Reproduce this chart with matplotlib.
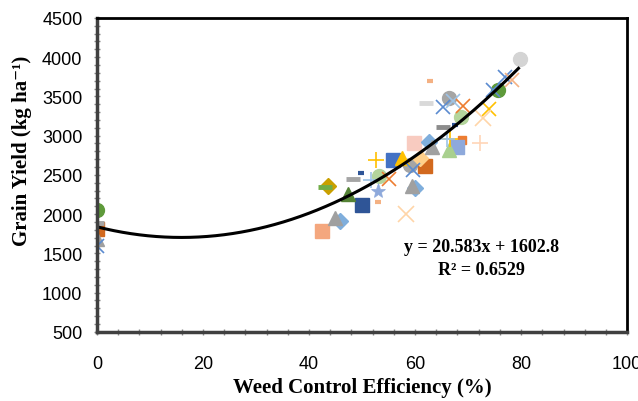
import numpy as np
import matplotlib
matplotlib.use("Agg")
import matplotlib.pyplot as plt
from matplotlib.ticker import MultipleLocator

# ── data (weed control efficiency %, grain yield kg/ha) ─────────
green_circle_x = [0, 75.7]
green_circle_y = [2050, 3580]
lgreen_circle_x = [53.2, 68.7]
lgreen_circle_y = [2480, 3240]
gray_circle_x = [66.4, 59.0]
gray_circle_y = [3480, 2630]
lgray_circle_x = [79.8]
lgray_circle_y = [3980]

dorange_sq_x = [0, 61.9]
dorange_sq_y = [1810, 2610]
orange_sq_x = [68.9]
orange_sq_y = [2950]
salmon_sq_x = [42.5]
salmon_sq_y = [1790]
pink_sq_x = [59.8]
pink_sq_y = [2900]
blue_sq_x = [55.8]
blue_sq_y = [2690]
dblue_sq_x = [50.0]
dblue_sq_y = [2120]
peri_sq_x = [67.9]
peri_sq_y = [2850]

gray_dash_x = [0, 48.3]
gray_dash_y = [1890, 2450]
lgray_dash_x = [62.0]
lgray_dash_y = [3410]
dgray_dash_x = [65.3]
dgray_dash_y = [3110]
green_dash_x = [43.0]
green_dash_y = [2350]
blue_dash_x = [49.8, 67.5]
blue_dash_y = [2520, 3130]
salmon_dash_x = [53.0, 62.8]
salmon_dash_y = [2160, 3690]

gold_dia_x = [43.6]
gold_dia_y = [2360]
lblue_dia_x = [45.8, 62.6, 60.0]
lblue_dia_y = [1910, 2920, 2330]
lorange_dia_x = [61.0]
lorange_dia_y = [2710]

gray_tri_x = [0, 44.9, 59.4, 63.2]
gray_tri_y = [1680, 1950, 2360, 2850]
green_tri_x = [47.4]
green_tri_y = [2260]
lgreen_tri_x = [66.4]
lgreen_tri_y = [2820]
gold_tri_x = [57.5]
gold_tri_y = [2710]

blue_x_x = [0, 65.3, 74.7, 77.0, 59.6]
blue_x_y = [1600, 3360, 3580, 3750, 2560]
lblue_x_x = [67.2]
lblue_x_y = [3440]
orange_x_x = [69.0, 55.1]
orange_x_y = [3380, 2450]
salmon_x_x = [78.3]
salmon_x_y = [3710]
gold_x_x = [74.0]
gold_x_y = [3340]
lorange_x_x = [72.8, 58.3]
lorange_x_y = [3230, 2000]

gold_plus_x = [52.6, 66.6]
gold_plus_y = [2690, 2960]
lblue_plus_x = [51.7, 66.0]
lblue_plus_y = [2430, 2960]
lorange_plus_x = [72.3]
lorange_plus_y = [2900]

star_x = [53.0]
star_y = [2300]

# polynomial trendline coefficients (as drawn)
trend_coef = [0.533, -16.97, 1838]
trend_range = [0, 79.5]

# ── styles ──────────────────────────────────────────────────────
series = [
    (lgray_circle_x, lgray_circle_y, 'o', '#D4D4D4', 10),
    (gray_circle_x, gray_circle_y, 'o', '#A5A5A5', 10),
    (green_circle_x, green_circle_y, 'o', '#5E9A3A', 10),
    (lgreen_circle_x, lgreen_circle_y, 'o', '#B4D59C', 10),
    (dorange_sq_x, dorange_sq_y, 's', '#D2691E', 10),
    (orange_sq_x, orange_sq_y, 's', '#ED7D31', 6),
    (salmon_sq_x, salmon_sq_y, 's', '#F4A77E', 10),
    (pink_sq_x, pink_sq_y, 's', '#F8CBC0', 10),
    (blue_sq_x, blue_sq_y, 's', '#4472C4', 10),
    (dblue_sq_x, dblue_sq_y, 's', '#2F5597', 10),
    (peri_sq_x, peri_sq_y, 's', '#8EA9DB', 10),
    (gold_dia_x, gold_dia_y, 'D', '#C9A000', 8),
    (lblue_dia_x, lblue_dia_y, 'D', '#7FAEDC', 8),
    (lorange_dia_x, lorange_dia_y, 'D', '#FFD08A', 8),
    (gray_tri_x, gray_tri_y, '^', '#A0A0A0', 10),
    (green_tri_x, green_tri_y, '^', '#548235', 10),
    (lgreen_tri_x, lgreen_tri_y, '^', '#A9D08E', 10),
    (gold_tri_x, gold_tri_y, '^', '#FFC000', 10),
]
line_series = [
    (gray_dash_x, gray_dash_y, '_', '#A5A5A5', 10, 3.5),
    (lgray_dash_x, lgray_dash_y, '_', '#D9D9D9', 10, 3.5),
    (dgray_dash_x, dgray_dash_y, '_', '#8C8C8C', 10, 3.5),
    (green_dash_x, green_dash_y, '_', '#70AD47', 10, 3.5),
    (blue_dash_x, blue_dash_y, '_', '#2F5597', 5, 3),
    (salmon_dash_x, salmon_dash_y, '_', '#F4B183', 5, 3),
    (blue_x_x, blue_x_y, 'x', '#5B8BD0', 10, 1.2),
    (lblue_x_x, lblue_x_y, 'x', '#9DC3E6', 10, 1.2),
    (orange_x_x, orange_x_y, 'x', '#ED7D31', 10, 1.2),
    (salmon_x_x, salmon_x_y, 'x', '#F4B183', 10, 1.2),
    (gold_x_x, gold_x_y, 'x', '#FFC000', 10, 1.2),
    (lorange_x_x, lorange_x_y, 'x', '#FFD5A8', 12, 1.2),
    (gold_plus_x, gold_plus_y, '+', '#FFC000', 11, 1.2),
    (lblue_plus_x, lblue_plus_y, '+', '#9DC3E6', 11, 1.2),
    (lorange_plus_x, lorange_plus_y, '+', '#FFD5B8', 11, 1.2),
    (star_x, star_y, '*', '#8EA9DB', 11, 0.5),
]

# ── plot ────────────────────────────────────────────────────────
fig = plt.figure(figsize=(6.38, 4.02), dpi=100)
ax = fig.add_axes([0.152, 0.172, 0.831, 0.781])

for xs, ys, m, c, ms in series:
    ax.plot(xs, ys, linestyle='none', marker=m, ms=ms, color=c, mec=c)
for xs, ys, m, c, ms, mew in line_series:
    ax.plot(xs, ys, linestyle='none', marker=m, ms=ms, color=c, mew=mew)

xt = np.linspace(trend_range[0], trend_range[1], 200)
ax.plot(xt, np.polyval(trend_coef, xt), color='black', lw=2.2)

ax.set_xlim(0, 100)
ax.set_ylim(500, 4500)
ax.xaxis.set_major_locator(MultipleLocator(20))
ax.xaxis.set_minor_locator(MultipleLocator(4))
ax.yaxis.set_major_locator(MultipleLocator(500))
ax.yaxis.set_minor_locator(MultipleLocator(100))
ax.tick_params(which='both', direction='inout', length=5, width=1,
               color='#888888', labelsize=13)
ax.tick_params(axis='x', pad=14)
ax.tick_params(axis='y', pad=8)
for lab in ax.get_xticklabels() + ax.get_yticklabels():
    lab.set_family('Liberation Sans')

for side in ['top', 'right']:
    ax.spines[side].set_linewidth(2)
    ax.spines[side].set_color('black')
for side in ['left', 'bottom']:
    ax.spines[side].set_linewidth(2.5)
    ax.spines[side].set_color('#404040')

serif = ['Liberation Serif', 'DejaVu Serif']
ax.set_xlabel('Weed Control Efficiency (%)', family=serif,
              fontweight='bold', fontsize=15, labelpad=4)
ax.set_ylabel('Grain Yield (kg ha\u207b\u00b9)', family=serif,
              fontweight='bold', fontsize=15)
ax.yaxis.set_label_coords(-0.122, 0.58)

ax.text(72.5, 1590, 'y = 20.583x + 1602.8', family=serif, fontweight='bold',
        fontsize=13, ha='center', va='center')
ax.text(72.5, 1290, 'R\u00b2 = 0.6529', family=serif, fontweight='bold',
        fontsize=13, ha='center', va='center')

plt.savefig('out.png', dpi=100)
